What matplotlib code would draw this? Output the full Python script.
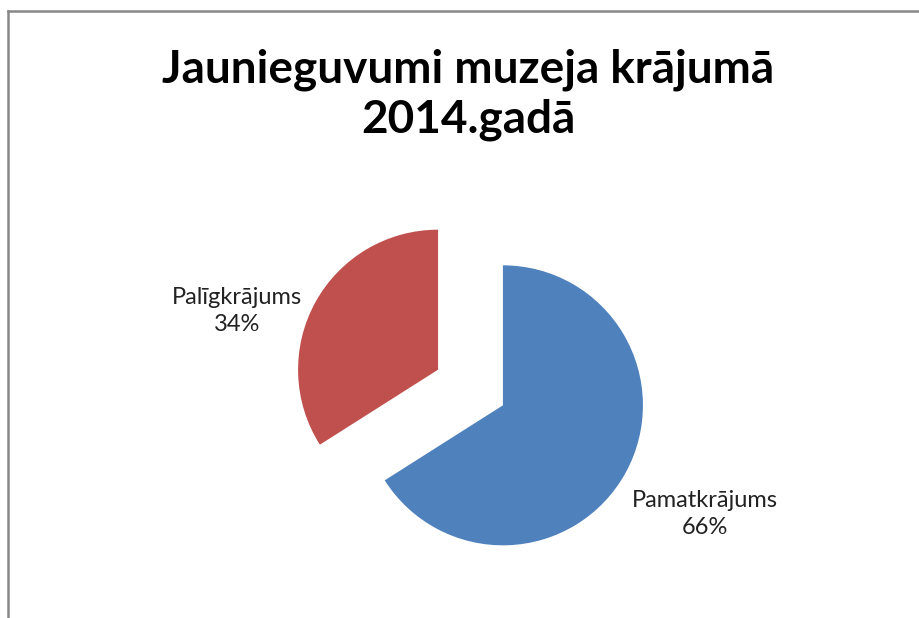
import matplotlib.pyplot as plt
from matplotlib.lines import Line2D
import numpy as np

# data
labels = ["Pamatkrājums", "Palīgkrājums"]
values = [66, 34]
colors = ["#4F81BD", "#C0504D"]
title = "Jaunieguvumi muzeja krājumā\n2014.gadā"

W, H = 920, 618
fig = plt.figure(figsize=(W / 100, H / 100), dpi=100)
fig.patch.set_facecolor("white")

# axes in pixel units, y up
ax = fig.add_axes([0, 0, 1, 1])
ax.set_xlim(0, W)
ax.set_ylim(0, H)
ax.set_aspect("equal")
ax.axis("off")

R = 140
center = (470.5, H - 387.5)
wedges, _ = ax.pie(values, colors=colors, startangle=90, counterclock=False,
                   radius=R, center=center, explode=[37, 37],
                   wedgeprops=dict(linewidth=0), frame=True)
ax.set_xlim(0, W)
ax.set_ylim(0, H)
ax.axis("off")

# data labels
label_pos = [(705, H - 514), (237, H - 311)]
for lab, v, (x, y) in zip(labels, values, label_pos):
    ax.text(x, y, f"{lab}\n{v}%", ha="center", va="center",
            fontsize=17, family="Lato", color="#222222", linespacing=1.4)

fig.text(468 / W, 1 - 95 / H, title, ha="center", va="center",
         fontsize=33, fontweight="bold", family="Lato", color="black",
         linespacing=1.22)

# chart border (top and left edge visible)
fig.add_artist(Line2D([8 / W, 8 / W], [0, 1 - 11 / H], color="#888888", lw=1.8))
fig.add_artist(Line2D([8 / W, 1], [1 - 11 / H, 1 - 11 / H], color="#888888", lw=1.8))

fig.savefig("out.png", dpi=100)
